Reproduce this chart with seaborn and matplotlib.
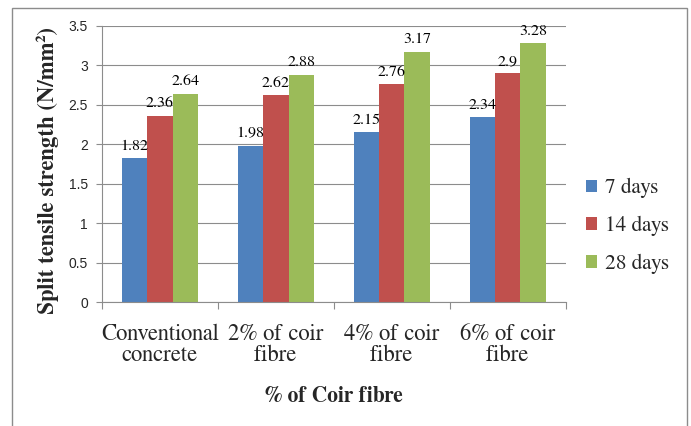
import seaborn as sns
import matplotlib.pyplot as plt
import pandas as pd
from matplotlib.patches import Rectangle

categories = ["Conventional\nconcrete", "2% of coir\nfibre", "4% of coir\nfibre", "6% of coir\nfibre"]
days_7 = [1.82, 1.98, 2.15, 2.34]
days_14 = [2.36, 2.62, 2.76, 2.9]
days_28 = [2.64, 2.88, 3.17, 3.28]
series = ["7 days", "14 days", "28 days"]
colors = ["#4F81BD", "#C0504D", "#9BBB59"]

rows = []
for name, vals in zip(series, [days_7, days_14, days_28]):
    for c, v in zip(categories, vals):
        rows.append({"cat": c, "series": name, "value": v})
df = pd.DataFrame(rows)

sns.set_style("white")
plt.rcParams["font.family"] = "serif"
plt.rcParams["font.serif"] = ["FreeSerif", "Liberation Serif", "DejaVu Serif"]
plt.rcParams["font.sans-serif"] = ["Liberation Sans", "DejaVu Sans"]

fig = plt.figure(figsize=(6.91, 4.26), dpi=100)
ax = fig.add_axes([0.1476, 0.291, 0.671, 0.648])

sns.barplot(data=df, x="cat", y="value", hue="series", palette=colors,
            width=0.655, saturation=1, ax=ax, linewidth=0)

for cont in ax.containers:
    ax.bar_label(cont, labels=[f"{v:g}" for v in cont.datavalues], padding=4,
                 fontsize=11.5, color="black")

ax.set_ylim(0, 3.5)
ax.set_yticks([0, 0.5, 1, 1.5, 2, 2.5, 3, 3.5])
ax.yaxis.grid(True, color="#8c8c8c", linewidth=0.8)
ax.set_axisbelow(True)
for s in ["top", "right"]:
    ax.spines[s].set_visible(False)
for s in ["left", "bottom"]:
    ax.spines[s].set_color("#8c8c8c")
    ax.spines[s].set_linewidth(0.8)

ax.tick_params(axis="y", left=True, length=4, width=0.8, color="#8c8c8c", pad=6)
ax.set_xlim(-0.5, 3.5)
ax.set_xticks([-0.5, 0.5, 1.5, 2.5, 3.5], minor=True)
ax.tick_params(axis="x", which="major", bottom=False, pad=12)
ax.tick_params(axis="x", which="minor", bottom=True, length=5, width=0.8, color="#8c8c8c")
ax.set_xticks([0, 1, 2, 3])
ax.set_xticklabels(categories, fontsize=16.3, linespacing=1.0)
ax.set_yticklabels(["0", "0.5", "1", "1.5", "2", "2.5", "3", "3.5"], family="sans-serif", fontsize=10)

ax.set_xlabel("% of Coir fibre", fontsize=15.5, fontweight="bold", labelpad=14)
ax.set_ylabel("Split tensile strength (N/mm²)", fontsize=16.4, fontweight="bold")
ax.yaxis.set_label_coords(-0.093, 0.475)

handles, labels = ax.get_legend_handles_labels()
leg = ax.legend(handles, labels, loc="center left", bbox_to_anchor=(0.82, 0.469),
                bbox_transform=fig.transFigure, frameon=False,
                prop={"size": 15.3}, handlelength=0.55, handleheight=0.55,
                handletextpad=0.35, labelspacing=0.83)

fig.patches.append(Rectangle((12 / 691, -0.1), 675 / 691, 1.1 - 8 / 426, transform=fig.transFigure,
                             fill=False, edgecolor="#8c8c8c", linewidth=1))

fig.savefig("out.png", dpi=100)
